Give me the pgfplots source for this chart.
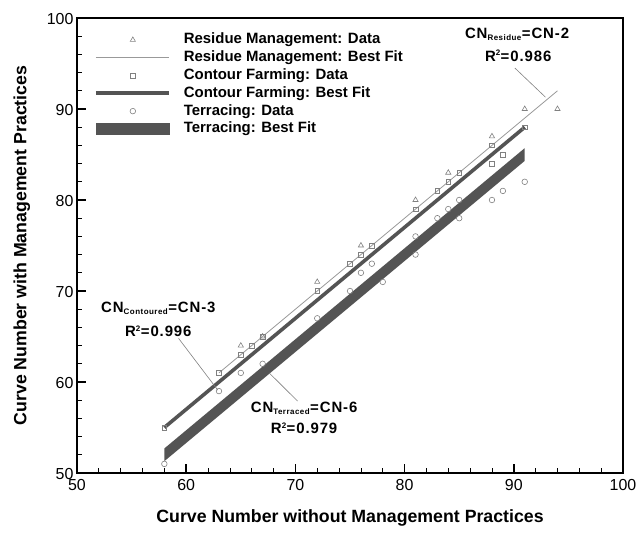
\documentclass[border=0pt]{standalone}
\usepackage{fontspec}
\setmainfont{Liberation Sans}
\usepackage{pgfplots}
\pgfplotsset{compat=1.18}

\definecolor{markgray}{gray}{0.5}
\definecolor{linegray}{gray}{0.6}
\definecolor{darkband}{gray}{0.33}

\pgfplotsset{
  legmark/.style={legend image code/.code={\draw[##1] plot coordinates {(37bp,0bp)}; \path (0bp,0bp) (86bp,0bp);}},
  legline/.style={legend image code/.code={\draw[##1] (0bp,0bp) -- (73bp,0bp); \path (86bp,0bp);}},
  legband/.style={legend image code/.code={\fill[darkband] (0bp,-5.5bp) rectangle (73bp,5.5bp); \path (86bp,0bp);}},
}

\begin{document}
\begin{tikzpicture}
\begin{axis}[
  scale only axis, width=546bp, height=455bp,
  xmin=50, xmax=100, ymin=50, ymax=100,
  xtick={50,60,...,100}, ytick={50,60,...,100},
  minor tick num=4,
  tick pos=left, tick align=inside,
  major tick length=9bp, minor tick length=5bp,
  every tick/.style={black, line width=1.6bp},
  every minor tick/.style={black, line width=0.7bp},
  axis line style={line width=2bp},
  tick label style={font=\fontsize{16}{16}\selectfont},
  xticklabel style={yshift=-3bp},
  yticklabel style={yshift=-1bp},
  /pgf/number format/assume math mode=true,
  xlabel={Curve Number without Management Practices},
  ylabel={Curve Number with Management Practices},
  label style={font=\bfseries\fontsize{17.8}{17.8}\selectfont},
  xlabel shift=12bp, ylabel shift=10bp,
  legend cell align=left,
  legend style={at={(axis cs:51.25,98.6)}, anchor=north west, draw=none, fill=none,
    font=\bfseries\fontsize{15}{15}\selectfont, row sep=3.8bp,
    nodes={inner xsep=0pt, inner ysep=0pt, text height=11bp, text depth=3bp}},
]
% fitted lines
\addplot[fill=darkband, draw=none, forget plot]
  coordinates {(58,51.3) (91,84.3) (91,85.7) (58,52.7)} -- cycle;
\addplot[darkband, line width=3.6bp, forget plot] coordinates {(58,55) (91,88)};
\addplot[linegray, line width=0.8bp, forget plot] coordinates {(63,61) (94,92)};

% residue management
\addplot[only marks, mark=triangle, mark size=3bp, markgray, mark options={line width=0.6bp}, forget plot]
  coordinates {(65,64) (67,65) (72,71) (76,75) (81,80) (84,83) (88,87) (91,90) (94,90)};
% contour farming
\addplot[only marks, mark=square, mark size=2.3bp, markgray, mark options={line width=0.6bp}, forget plot]
  coordinates {(58,55) (63,61) (65,63) (66,64) (67,65) (72,70) (75,73) (76,74) (77,75)
    (81,79) (83,81) (84,82) (85,83) (88,86) (88,84) (89,85) (91,88)};
% terracing
\addplot[only marks, mark=o, mark size=2.8bp, markgray, mark options={line width=0.6bp}, forget plot]
  coordinates {(58,51) (63,59) (65,61) (67,62) (72,67) (75,70) (76,72) (77,73) (78,71)
    (81,76) (81,74) (83,78) (84,79) (85,80) (85,78) (88,80) (89,81) (91,82)};

\addlegendimage{only marks, mark=triangle, mark size=3bp, markgray, mark options={line width=0.6bp}, legmark}
\addlegendentry{Residue Management: Data}
\addlegendimage{linegray, line width=0.8bp, legline}
\addlegendentry{Residue Management: Best Fit}
\addlegendimage{only marks, mark=square, mark size=2.3bp, markgray, mark options={line width=0.6bp}, legmark}
\addlegendentry{Contour Farming: Data}
\addlegendimage{darkband, line width=4bp, legline}
\addlegendentry{Contour Farming: Best Fit}
\addlegendimage{only marks, mark=o, mark size=2.8bp, markgray, mark options={line width=0.6bp}, legmark}
\addlegendentry{Terracing: Data}
\addlegendimage{darkband, legband}
\addlegendentry{Terracing: Best Fit}

% annotations
\begin{scope}[every node/.style={font=\bfseries\fontsize{15}{15}\selectfont\addfontfeature{LetterSpace=6}, inner sep=0pt}]
\node at (axis cs:90.3,98.25) {CN\textsubscript{\fontsize{8}{8}\selectfont Residue}=CN-2};
\node at (axis cs:90.4,95.85) {R\textsuperscript{\fontsize{8}{8}\selectfont 2}=0.986};
\node at (axis cs:57.45,68.1) {CN\textsubscript{\fontsize{8}{8}\selectfont Contoured}=CN-3};
\node at (axis cs:57.45,65.6) {R\textsuperscript{\fontsize{8}{8}\selectfont 2}=0.996};
\node at (axis cs:70.8,57.1) {CN\textsubscript{\fontsize{8}{8}\selectfont Terraced}=CN-6};
\node at (axis cs:70.8,54.9) {R\textsuperscript{\fontsize{8}{8}\selectfont 2}=0.979};
\end{scope}
\draw[gray, line width=0.6bp] (axis cs:90.1,94.5) -- (axis cs:92.9,91.3);
\draw[gray, line width=0.6bp] (axis cs:59.3,64.8) -- (axis cs:62.9,59.1);
\draw[gray, line width=0.6bp] (axis cs:67.6,61.0) -- (axis cs:70.2,57.9);

\coordinate (sw) at (rel axis cs:0,0);
\coordinate (ne) at (rel axis cs:1,1);
\end{axis}
\pgfresetboundingbox
\path ([shift={(-77bp,-64bp)}]sw) rectangle ([shift={(16bp,18bp)}]ne);
\end{tikzpicture}
\end{document}
